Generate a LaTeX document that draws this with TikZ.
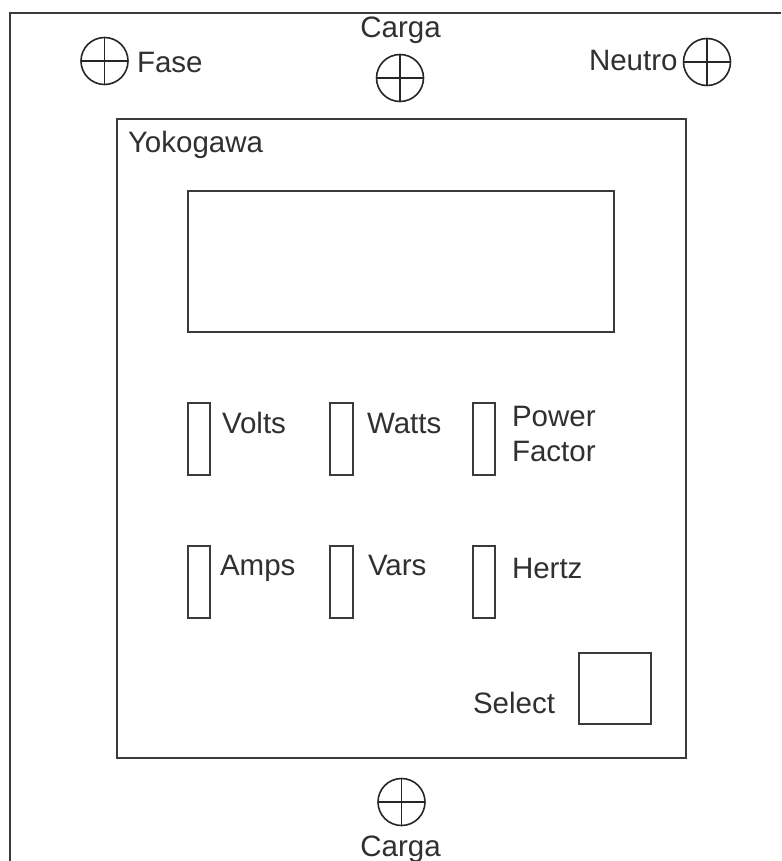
\documentclass[tikz,border=0pt]{standalone}
\usepackage{fontspec}
\setmainfont{Liberation Sans}
\definecolor{linec}{HTML}{3A3A3A}
\definecolor{textc}{HTML}{303030}
\begin{document}
\begin{tikzpicture}[x=1pt,y=-1pt,
  every node/.style={inner sep=0pt, outer sep=0pt},
  lbl/.style={anchor=base west, text=textc, font=\fontsize{29.5}{34}\selectfont},
  lblc/.style={anchor=base, text=textc, font=\fontsize{29.5}{34}\selectfont},
  box/.style={draw=linec, line width=2pt, fill=white},
  xhair/.style={circle, draw=black!85, line width=1.6pt, minimum size=47pt,
    path picture={\draw[black!85, line width=1.6pt]
      (path picture bounding box.north) -- (path picture bounding box.south)
      (path picture bounding box.west) -- (path picture bounding box.east);}}
]
\useasboundingbox (0,0) rectangle (781,861);
\fill[white] (0,0) rectangle (781,861);
% outer panel (continues beyond right and bottom edges)
\draw[linec, line width=2pt] (10,861) -- (10,13) -- (781,13);
% terminals
\node[xhair] (fase) at (104.5,61) {};
\node[lbl] (fasel) at (137,73) {Fase};
\node[xhair] (cargat) at (400,78) {};
\node[lblc] (cargatl) at (400.5,38) {Carga};
\node[xhair] (neutro) at (707,62) {};
\node[lbl] (neutrol) at (589,71) {Neutro};
\node[xhair] (cargab) at (401.5,802) {};
\node[lblc] (cargabl) at (400.5,856) {Carga};
% meter body
\node[box, anchor=north west, minimum width=569pt, minimum height=639pt] (meter) at (117,119) {};
\node[lbl] (yoko) at (128,153) {Yokogawa};
% display
\node[box, anchor=north west, minimum width=426pt, minimum height=141pt] (display) at (188,191) {};
% indicators row 1
\node[box, anchor=north west, minimum width=22pt, minimum height=72pt] (ivolts) at (188,403) {};
\node[lbl] (volts) at (222,433) {Volts};
\node[box, anchor=north west, minimum width=23pt, minimum height=72pt] (iwatts) at (330,403) {};
\node[lbl] (watts) at (367,433) {Watts};
\node[box, anchor=north west, minimum width=22pt, minimum height=72pt] (ipf) at (473,403) {};
\node[lbl] (pf) at (512,426) {Power};
\node[lbl] (pf2) at (512,461) {Factor};
% indicators row 2
\node[box, anchor=north west, minimum width=22pt, minimum height=72pt] (iamps) at (188,546) {};
\node[lbl] (amps) at (220,575) {Amps};
\node[box, anchor=north west, minimum width=23pt, minimum height=72pt] (ivars) at (330,546) {};
\node[lbl] (vars) at (368,575) {Vars};
\node[box, anchor=north west, minimum width=22pt, minimum height=72pt] (ihz) at (473,546) {};
\node[lbl] (hertz) at (512,578) {Hertz};
% select
\node[box, anchor=north west, minimum width=72pt, minimum height=71pt] (selbox) at (579,653) {};
\node[lbl] (select) at (473,713) {Select};
\end{tikzpicture}
\end{document}
